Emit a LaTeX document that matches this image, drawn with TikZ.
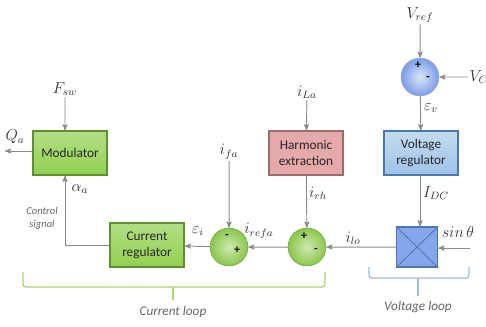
\documentclass[tikz,border=0pt]{standalone}
\usepackage{fontspec}
\setmainfont{Carlito}
\usepackage{amsmath}
\usetikzlibrary{arrows,shapes,positioning}
\definecolor{boxgreen}{HTML}{92D050}
\definecolor{edgegreen}{HTML}{5F8F2E}
\definecolor{boxpink}{HTML}{E6A9A9}
\definecolor{edgepink}{HTML}{9E6B6B}
\definecolor{boxblue}{HTML}{9DC3E6}
\definecolor{edgeblue}{HTML}{4A77AD}
\definecolor{wiregray}{HTML}{8A8A8A}
\definecolor{loopgreen}{HTML}{A9D46F}
\definecolor{loopblue}{HTML}{A3BCD9}
\tikzset{
  block/.style={draw, line width=1.2pt, minimum width=55.6pt, minimum height=33pt,
    align=center, inner sep=1pt, font=\normalsize, text=black!85},
  greenblock/.style={block, draw=edgegreen, top color=boxgreen!70!white, bottom color=boxgreen},
  pinkblock/.style={block, draw=edgepink, fill=boxpink},
  blueblock/.style={block, draw=edgeblue, top color=boxblue!60!white, bottom color=boxblue},
  sumgreen/.style={circle, draw=boxgreen!85!black, line width=0.6pt, minimum size=28.5pt,
    inner sep=0pt, inner color=boxgreen!45!white, outer color=boxgreen!95!black},
  sumblue/.style={circle, draw=edgeblue!60, line width=0.6pt, minimum size=28.5pt,
    inner sep=0pt, inner color=boxblue!40!white, outer color=boxblue!80!blue},
  sig/.style={draw=wiregray, line width=0.7pt, ->, >=stealth'},
  lbl/.style={inner sep=1pt, text=black!80, font=\large},
  sgn/.style={inner sep=0pt, font=\bfseries\small},
  note/.style={inner sep=1pt, text=black!60, font=\itshape}
}
\begin{document}
\begin{tikzpicture}[scale=0.0265]
  \useasboundingbox (0,0) rectangle (486,-327);
  % blocks
  \node[greenblock] (mod) at (70,-153) {Modulator};
  \node[greenblock] (creg) at (147,-245) {Current\\regulator};
  \node[pinkblock] (harm) at (306,-153) {Harmonic\\extraction};
  \node[blueblock] (vreg) at (421,-153) {Voltage\\regulator};
  \node[draw=edgeblue, line width=1.2pt, fill=boxblue!85!blue, minimum width=30.8pt,
        minimum height=30pt, inner sep=0pt] (mult) at (417,-247) {};
  \draw[edgeblue, line width=0.6pt] (mult.north west) -- (mult.south east)
        (mult.north east) -- (mult.south west);
  % summing junctions
  \node[sumgreen] (sum1) at (229,-247) {};
  \node[sgn] at (227,-236) {-};
  \node[sgn] at (237,-250) {+};
  \node[sumgreen] (sum2) at (307,-247) {};
  \node[sgn] at (304,-236) {+};
  \node[sgn] at (316,-250) {-};
  \node[sumblue] (vsum) at (420,-77) {};
  \node[sgn] at (418,-65) {+};
  \node[sgn] at (428,-78) {-};
  % signal labels
  \node[lbl] (fsw) at (65,-89) {$F_{sw}$};
  \node[lbl] (qa) at (15,-137) {$Q_a$};
  \coordinate (qout) at (5,-151);
  \node[lbl] (alpha) at (80,-189) {$\alpha_a$};
  \node[lbl] (ifa) at (229,-152) {$i_{fa}$};
  \node[lbl] (ila) at (307,-92) {$i_{La}$};
  \node[lbl] (vref) at (420,-15) {$V_{ref}$};
  \node[lbl, anchor=west] (vc) at (468,-77) {$V_C$};
  \node[lbl] (epsv) at (431,-108) {$\varepsilon_v$};
  \node[lbl] (idc) at (436,-193) {$I_{DC}$};
  \node[lbl] (irh) at (318,-193) {$i_{rh}$};
  \node[lbl] (sint) at (458,-232) {$sin\,\theta$};
  \coordinate (sinin) at (470,-248);
  \node[lbl] (ilo) at (353,-238) {$i_{lo}$};
  \node[lbl] (irefa) at (259,-231) {$i_{refa}$};
  \node[lbl] (epsi) at (198,-231) {$\varepsilon_i$};
  \node[note, align=center, font=\itshape\footnotesize] (ctrl) at (42,-218) {Control\\signal};
  % connectors
  \draw[sig] (fsw) -- (fsw |- mod.north);
  \draw[sig] (mod.west |- qout) -- (qout);
  \draw[sig] (creg.west) -| (fsw |- mod.south);
  \draw[sig] (sum1) -- (creg);
  \draw[sig] (ifa) -- (sum1);
  \draw[sig] (sum2) -- (sum1);
  \draw[sig] (ila) -- (harm);
  \draw[sig] (harm) -- (sum2);
  \draw[sig] (mult) -- (sum2);
  \draw[sig] (sinin) -- (sinin -| mult.east);
  \draw[sig] (vref) -- (vsum);
  \draw[sig] (vc) -- (vsum);
  \draw[sig] (vsum) -- (vreg);
  \draw[sig] (vreg.south -| vsum) -- (mult.north -| vsum);
  % loop brackets
  \draw[loopgreen, line width=1pt, rounded corners=2pt]
    (23,-272) -- (23,-287) -- (325,-287) -- (325,-272);
  \draw[loopgreen, line width=1pt] (173,-287) -- (173,-300);
  \node[note] (curloop) at (173,-312) {Current loop};
  \draw[loopblue, line width=1pt, rounded corners=2pt]
    (369,-267) -- (369,-278) -- (469,-278) -- (469,-267);
  \draw[loopblue, line width=1pt] (418,-278) -- (418,-296);
  \node[note] (voltloop) at (418,-307) {Voltage loop};
\end{tikzpicture}
\end{document}
